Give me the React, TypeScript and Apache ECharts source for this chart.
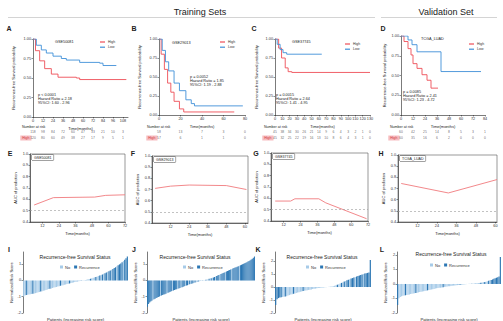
import React, { useEffect, useRef } from "react";
import * as echarts from "echarts";

const FONT = '"Liberation Sans", Arial, Helvetica, sans-serif';
const RED = "#ee4e57";
const BLUE = "#3f90d8";
const AUC_RED = "#f07a7e";
const LIGHT = "#a7cbe8";
const DARK = "#2c77b4";

// ---------------- Kaplan-Meier data (A-D) ----------------
const kmNames = ["GSE50081", "GSE29013", "GSE37745", "TCGA_LUAD"];
const kmStats = [
  ["p < 0.0001", "Hazard Ratio = 2.18", "95%CI: 1.60 - 2.96"],
  ["p = 0.0052", "Hazard Ratio = 1.85", "95%CI: 1.19 - 2.88"],
  ["p = 0.0015", "Hazard Ratio = 2.64", "95%CI: 1.41 - 4.95"],
  ["p = 0.0085", "Hazard Ratio = 2.41", "95%CI: 1.23 - 4.72"],
];
const kmA_low = [[0, 1], [4, 0.92], [10, 0.86], [16, 0.82], [24, 0.78], [34, 0.75], [40, 0.73], [56, 0.7], [80, 0.69], [84, 0.66], [100, 0.66]];
const kmA_high = [[0, 1], [3, 0.85], [8, 0.72], [14, 0.62], [22, 0.55], [30, 0.51], [52, 0.5], [56, 0.48], [112, 0.48]];
const kmB_low = [[0, 1], [3, 0.85], [6, 0.7], [9, 0.58], [14, 0.42], [19, 0.32], [25, 0.2], [30, 0.15], [33, 0.12], [78, 0.12]];
const kmB_high = [[0, 1], [2, 0.8], [5, 0.6], [8, 0.42], [11, 0.3], [14, 0.18], [19, 0.08], [23, 0.04], [70, 0.04]];
const kmC_low = [[0, 1], [3, 0.93], [7, 0.86], [11, 0.82], [16, 0.8], [64, 0.8]];
const kmC_high = [[0, 1], [5, 0.88], [9, 0.75], [14, 0.62], [18, 0.57], [23, 0.56], [130, 0.56]];
const kmD_low = [[0, 1], [7, 0.95], [11, 0.89], [16, 0.8], [40, 0.55], [80, 0.55]];
const kmD_high = [[0, 1], [3, 0.93], [7, 0.84], [10, 0.76], [12, 0.65], [16, 0.59], [21, 0.51], [26, 0.44], [30, 0.34], [37, 0.34]];

// number-at-risk tables
const riskA_times = [0, 12, 24, 36, 48, 60, 72, 84, 96, 108];
const riskA_low = [118, 98, 84, 72, 60, 47, 33, 21, 10, 3];
const riskA_high = [120, 80, 60, 49, 38, 27, 17, 9, 5, 1];
const riskB_times = [0, 20, 40, 60, 80];
const riskB_low = [58, 13, 7, 3, 0];
const riskB_high = [57, 6, 1, 1, 0];
const riskC_times = [0, 10, 20, 30, 40, 50, 60, 70, 80, 90, 100, 110, 120, 130];
const riskC_low = [45, 38, 34, 30, 26, 21, 14, 9, 6, 4, 3, 2, 1, 0];
const riskC_high = [45, 32, 25, 22, 19, 16, 13, 10, 8, 6, 4, 3, 1, 0];
const riskD_times = [0, 12, 24, 36, 48, 60, 72, 84];
const riskD_low = [60, 42, 25, 14, 8, 5, 3, 1];
const riskD_high = [60, 35, 16, 6, 2, 0, 0, 0];

// ---------------- time-dependent AUC (E-H) ----------------
const aucE = [[6, 0.55], [20, 0.615], [50, 0.62], [58, 0.635], [72, 0.64]];
const aucF = [[2, 0.71], [12, 0.73], [24, 0.74], [48, 0.735], [61, 0.7]];
const aucG = [[6, 0.576], [17, 0.576], [20, 0.596], [37, 0.596], [42, 0.56], [71, 0.42]];
const aucH = [[2, 0.745], [31, 0.66], [61, 0.78]];
const aucE_ticks = [12, 24, 36, 48, 60, 72];
const aucF_ticks = [12, 24, 36, 48, 60];
const aucG_ticks = [12, 24, 36, 48, 60, 72];
const aucH_ticks = [12, 24, 36, 48, 60];
const aucY_ticks = [0.4, 0.5, 0.6, 0.7, 0.8, 0.9, 1.0];

// ---------------- risk-score waterfalls (I-L) ----------------
const wfI_vals = [
  -0.98, -0.93, -0.9, -0.88, -0.86, -0.85, -0.83, -0.82, -0.8, -0.78,
  -0.76, -0.73, -0.71, -0.68, -0.66, -0.63, -0.61, -0.58, -0.56, -0.53,
  -0.51, -0.49, -0.46, -0.44, -0.42, -0.4, -0.37, -0.35, -0.33, -0.31,
  -0.29, -0.27, -0.25, -0.22, -0.2, -0.18, -0.16, -0.14, -0.12, -0.1,
  -0.08, -0.07, -0.05, -0.04, -0.02, -0.01,
  0.01, 0.03, 0.05, 0.07, 0.09, 0.11, 0.13, 0.16, 0.19, 0.22,
  0.25, 0.28, 0.31, 0.34, 0.37, 0.41, 0.45, 0.49, 0.53, 0.57,
  0.61, 0.66, 0.71, 0.76, 0.81, 0.87, 0.93, 0.99, 1.05, 1.12,
  1.19, 1.27, 1.36, 1.47,
];
const wfI_status = [
  0, 0, 1, 0, 0, 0, 0, 1, 0, 0, 0, 0, 0, 1, 0, 0, 0, 0, 0, 0,
  1, 0, 0, 0, 0, 0, 0, 0, 1, 0, 0, 0, 0, 0, 0, 1, 0, 0, 0, 0,
  0, 0, 0, 0, 1, 0, 0, 0, 0, 0, 0, 1, 0, 0, 0, 1, 0, 0, 1, 0,
  1, 0, 1, 1, 0, 1, 1, 0, 1, 1, 1, 0, 1, 1, 1, 1, 0, 1, 1, 1,
];
const wfJ_vals = [
  -1.62, -1.45, -1.36, -1.3, -1.25, -1.2, -1.16, -1.12, -1.08, -1.05,
  -1.02, -0.99, -0.96, -0.93, -0.9, -0.87, -0.84, -0.81, -0.78, -0.75,
  -0.72, -0.7, -0.67, -0.64, -0.62, -0.59, -0.56, -0.54, -0.51, -0.49,
  -0.46, -0.44, -0.41, -0.39, -0.36, -0.34, -0.31, -0.29, -0.27, -0.24,
  -0.22, -0.2, -0.17, -0.15, -0.13, -0.11, -0.09, -0.07, -0.05, -0.03,
  -0.02, -0.01,
  0.01, 0.02, 0.04, 0.06, 0.08, 0.1, 0.12, 0.14, 0.16, 0.19,
  0.22, 0.25, 0.28, 0.31, 0.34, 0.37, 0.4, 0.43, 0.46, 0.49,
  0.52, 0.55, 0.58, 0.61, 0.64, 0.67, 0.7, 0.73, 0.76, 0.79,
  0.82, 0.85, 0.88, 0.91, 0.94, 0.97, 1.0, 1.03, 1.06, 1.09,
  1.12, 1.16, 1.2, 1.24, 1.29, 1.34, 1.4, 1.47,
];
const wfJ_status = [
  1, 1, 1, 1, 1, 0, 1, 1, 1, 1, 1, 1, 0, 1, 1, 1, 1, 1, 0, 1,
  1, 1, 1, 0, 1, 1, 1, 1, 0, 1, 1, 0, 1, 1, 1, 0, 1, 1, 0, 1,
  0, 1, 1, 0, 1, 0, 0, 1, 0, 0, 0, 1, 0, 0, 1, 0, 0, 1, 0, 1,
  0, 1, 1, 0, 1, 1, 1, 0, 1, 1, 1, 1, 0, 1, 1, 1, 1, 1, 0, 1,
  1, 1, 1, 1, 1, 0, 1, 1, 1, 1, 1, 1, 1, 1, 1, 1, 1, 1, 1, 1,
];
const wfK_vals = [
  -1.39, -0.95, -0.85, -0.8, -0.78, -0.76, -0.74, -0.72, -0.7, -0.66,
  -0.62, -0.58, -0.55, -0.52, -0.49, -0.46, -0.43, -0.4, -0.37, -0.34,
  -0.31, -0.28, -0.26, -0.24, -0.22, -0.2, -0.18, -0.16, -0.14, -0.12,
  -0.1, -0.08, -0.06, -0.05, -0.04, -0.03, -0.02, -0.01,
  0.01, 0.02, 0.03, 0.05, 0.07, 0.1, 0.14, 0.18, 0.22, 0.27,
  0.32, 0.37, 0.42, 0.47, 0.52, 0.57, 0.61, 0.65, 0.69, 0.73,
  0.77, 0.81, 0.85, 0.89, 0.93, 0.97, 1.01, 1.04, 1.07, 1.09,
  1.12, 2.08,
];
const wfK_status = [
  1, 1, 1, 1, 1, 0, 0, 1, 0, 0, 0, 0, 0, 1, 0, 0, 0, 0, 0, 0,
  1, 0, 0, 0, 0, 0, 0, 0, 0, 0, 0, 0, 0, 0, 0, 0, 0, 0, 0, 0,
  0, 0, 0, 0, 0, 1, 0, 0, 1, 0, 1, 0, 1, 1, 0, 1, 1, 1, 0, 1,
  1, 1, 1, 1, 0, 1, 1, 1, 1, 1,
];
const wfL_vals = [
  -1.45, -0.98, -0.9, -0.85, -0.82, -0.8, -0.78, -0.76, -0.74, -0.72,
  -0.7, -0.68, -0.66, -0.64, -0.62, -0.6, -0.58, -0.56, -0.54, -0.52,
  -0.5, -0.48, -0.46, -0.44, -0.42, -0.4, -0.38, -0.36, -0.34, -0.32,
  -0.3, -0.28, -0.27, -0.26, -0.24, -0.22, -0.2, -0.19, -0.18, -0.16,
  -0.15, -0.14, -0.12, -0.11, -0.1, -0.09, -0.08, -0.07, -0.06, -0.05,
  -0.04, -0.03, -0.02, -0.01,
  0.0, 0.01, 0.01, 0.02, 0.02, 0.03, 0.04, 0.05, 0.06, 0.07,
  0.08, 0.1, 0.12, 0.14, 0.16, 0.19, 0.22, 0.25, 0.28, 0.31,
  0.35, 0.39, 0.43, 0.47, 0.52, 1.86,
];
const wfL_status = [
  1, 0, 0, 0, 0, 0, 1, 0, 0, 0, 0, 0, 0, 0, 1, 0, 0, 0, 0, 0,
  0, 0, 0, 1, 0, 0, 0, 0, 0, 0, 0, 0, 0, 0, 0, 1, 0, 0, 0, 0,
  0, 0, 0, 0, 0, 0, 0, 0, 1, 0, 0, 0, 0, 0, 0, 0, 0, 1, 0, 0,
  0, 0, 0, 0, 1, 0, 0, 1, 0, 0, 1, 0, 1, 1, 1, 1, 1, 1, 1, 1,
];
const wfI_ticks = [-2, -1, 0, 1];
const wfJ_ticks = [-2, -1, 0, 1];
const wfK_ticks = [-2, -1, 0, 1, 2];
const wfL_ticks = [-2, -1, 0, 1, 2];

// ---------------- layout (positions / sizes only) ----------------
const kmLayout = [
  { left: 33, top: 39, width: 95, height: 78, xmax: 114, xint: 12, yGap: 18, leg: [100, 40], name: [55, 42], stat: [38, 95], hdr: 22 },
  { left: 159, top: 39, width: 86, height: 76, xmax: 80, xint: 20, yGap: 18, leg: [220, 40], name: [172, 43], stat: [190, 77], hdr: 147 },
  { left: 275, top: 39, width: 95, height: 76, xmax: 130, xint: 10, yGap: 17, leg: [345, 42], name: [292, 42], stat: [276, 95], hdr: 264 },
  { left: 401, top: 36, width: 84, height: 79, xmax: 84, xint: 12, yGap: 15, leg: [469, 42], name: [421, 39], stat: [403, 92], hdr: 390 },
];
const aucLayout = [
  { left: 30, top: 154, width: 95, height: 68, min: 3, max: 72, yGap: 13 },
  { left: 152, top: 156, width: 96, height: 67, min: 0, max: 62, yGap: 13 },
  { left: 271, top: 153, width: 97, height: 68, min: 3, max: 72, yGap: 13 },
  { left: 398, top: 155, width: 99, height: 67, min: 0, max: 61, yGap: 13 },
];
const wfLayout = [
  { left: 23, top: 252, width: 105, height: 61, max: 1.75, title: [75, 257], leg: [60, 265] },
  { left: 147, top: 252, width: 108, height: 61, max: 1.75, title: [195, 257], leg: [183, 265] },
  { left: 275, top: 252, width: 96, height: 61, max: 2.7, title: [322, 257], leg: [306, 265] },
  { left: 397, top: 252, width: 104, height: 61, max: 2.2, title: [451, 254], leg: [430, 263] },
];
const letters: [string, number, number][] = [
  ["A", 9, 28], ["B", 134, 28], ["C", 254, 28], ["D", 383, 28],
  ["E", 10, 153], ["F", 133, 153], ["G", 256, 153], ["H", 381, 153],
  ["I", 9, 249], ["J", 134, 249], ["K", 258, 249], ["L", 382, 249],
];

function buildOption() {
  const grids: any[] = [];
  const xAxes: any[] = [];
  const yAxes: any[] = [];
  const series: any[] = [];
  const legends: any[] = [];
  const graphics: any[] = [];

  const lbl = { fontSize: 3.8, color: "#333", margin: 2, fontFamily: FONT };
  const axLine = { lineStyle: { color: "#222", width: 0.6 }, onZero: false };
  const axTick = { length: 1.5, lineStyle: { color: "#222", width: 0.5 } };
  const nameStyle = { fontSize: 4, color: "#222", fontFamily: FONT };

  const txt = (x: number, y: number, text: string, extra: any = {}) => ({
    type: "text",
    x,
    y,
    silent: true,
    style: { text, fontSize: 3.8, fill: "#222", fontFamily: FONT, verticalAlign: "middle", ...extra },
  });

  const gridBase = { containLabel: false, outerBoundsMode: "none" };

  // ---- KM panels ----
  const km = [
    { low: kmA_low, high: kmA_high, t: riskA_times, rl: riskA_low, rh: riskA_high },
    { low: kmB_low, high: kmB_high, t: riskB_times, rl: riskB_low, rh: riskB_high },
    { low: kmC_low, high: kmC_high, t: riskC_times, rl: riskC_low, rh: riskC_high },
    { low: kmD_low, high: kmD_high, t: riskD_times, rl: riskD_low, rh: riskD_high },
  ];
  km.forEach((d, i) => {
    const L = kmLayout[i];
    let gi = grids.length;
    grids.push({ ...gridBase, left: L.left, top: L.top, width: L.width, height: L.height });
    xAxes.push({
      type: "value", gridIndex: gi, min: 0, max: L.xmax, interval: L.xint,
      axisLine: axLine, axisTick: axTick, splitLine: { show: false },
      axisLabel: { ...lbl, showMaxLabel: L.xmax % L.xint === 0 },
      name: "Time(months)", nameLocation: "middle", nameGap: 9, nameTextStyle: nameStyle,
    });
    yAxes.push({
      type: "value", gridIndex: gi, min: 0, max: 1, interval: 0.25,
      axisLine: { ...axLine, show: true }, axisTick: { ...axTick, show: true }, splitLine: { show: false },
      axisLabel: { ...lbl, formatter: (v: number) => v.toFixed(2) },
      name: "Recurrence-free Survival probability", nameLocation: "middle", nameGap: L.yGap, nameTextStyle: nameStyle,
    });
    series.push({
      type: "line", name: "High", xAxisIndex: gi, yAxisIndex: gi, data: d.high, step: "end", symbol: "none",
      lineStyle: { color: RED, width: 0.9 }, itemStyle: { color: RED }, silent: true,
    });
    series.push({
      type: "line", name: "Low", xAxisIndex: gi, yAxisIndex: gi, data: d.low, step: "end", symbol: "none",
      lineStyle: { color: BLUE, width: 0.9 }, itemStyle: { color: BLUE }, silent: true,
    });
    legends.push({
      orient: "vertical", left: L.leg[0], top: L.leg[1], data: ["High", "Low"], icon: "rect",
      itemWidth: 5, itemHeight: 1.2, itemGap: 1.2, padding: 0, selectedMode: false,
      textStyle: { fontSize: 3.5, color: "#333", fontFamily: FONT, padding: [0, 0, 0, -2] },
    });
    graphics.push(txt(L.name[0], L.name[1], kmNames[i]));
    kmStats[i].forEach((s, k) => graphics.push(txt(L.stat[0], L.stat[1] + k * 4.2, s)));
    graphics.push(txt(L.hdr, 127, "Number at risk", { fontSize: 3.6 }));

    // risk table
    gi = grids.length;
    grids.push({ ...gridBase, left: L.left, top: 129, width: L.width, height: 12 });
    xAxes.push({ type: "value", gridIndex: gi, min: 0, max: L.xmax, show: false });
    yAxes.push({
      type: "category", gridIndex: gi, data: ["High", "Low"],
      axisLine: { show: false }, axisTick: { show: false }, splitLine: { show: false },
      axisLabel: {
        fontSize: 3.5, margin: 1.5, fontFamily: FONT,
        formatter: (v: string) => (v === "Low" ? "{l|Low}" : "{h|High}"),
        rich: {
          l: { fontSize: 3.5, color: "#2f7cc4", backgroundColor: "#b5d7f3", padding: [0.5, 3, 0.5, 3] },
          h: { fontSize: 3.5, color: "#d23a44", backgroundColor: "#f6bcc0", padding: [0.5, 2, 0.5, 2] },
        },
      },
    });
    const pts: any[] = [];
    d.t.forEach((t, k) => {
      pts.push([t, "Low", d.rl[k]]);
      pts.push([t, "High", d.rh[k]]);
    });
    series.push({
      type: "scatter", xAxisIndex: gi, yAxisIndex: gi, data: pts, symbolSize: 0.1, silent: true,
      itemStyle: { color: "transparent" },
      label: { show: true, position: "inside", formatter: (p: any) => String(p.value[2]), fontSize: 3.4, color: "#444", fontFamily: FONT },
    });
  });

  // ---- AUC panels ----
  const aucs = [
    { d: aucE, t: aucE_ticks, n: kmNames[0] },
    { d: aucF, t: aucF_ticks, n: kmNames[1] },
    { d: aucG, t: aucG_ticks, n: kmNames[2] },
    { d: aucH, t: aucH_ticks, n: kmNames[3] },
  ];
  aucs.forEach((a, i) => {
    const L = aucLayout[i];
    const gi = grids.length;
    grids.push({ ...gridBase, left: L.left, top: L.top, width: L.width, height: L.height, show: true, borderColor: "#555", borderWidth: 0.6, backgroundColor: "transparent" });
    xAxes.push({
      type: "value", gridIndex: gi, min: L.min, max: L.max,
      axisLine: axLine, axisTick: { ...axTick, customValues: a.t }, splitLine: { show: false },
      axisLabel: { ...lbl, customValues: a.t },
      name: "Time(months)", nameLocation: "middle", nameGap: 9, nameTextStyle: nameStyle,
    });
    yAxes.push({
      type: "value", gridIndex: gi, min: 0.4, max: 1.0,
      axisLine: { ...axLine, show: true }, axisTick: { ...axTick, show: true, customValues: aucY_ticks }, splitLine: { show: false },
      axisLabel: { ...lbl, customValues: aucY_ticks, formatter: (v: number) => v.toFixed(1) },
      name: "AUC of prediction", nameLocation: "middle", nameGap: L.yGap, nameTextStyle: nameStyle,
    });
    series.push({
      type: "line", name: "AUC" + i, xAxisIndex: gi, yAxisIndex: gi, data: a.d, symbol: "none", silent: true,
      lineStyle: { color: AUC_RED, width: 0.9 }, itemStyle: { color: AUC_RED },
      markLine: {
        silent: true, symbol: "none", label: { show: false },
        lineStyle: { type: [2, 2], color: "#999", width: 0.6 },
        data: [{ yAxis: 0.5 }],
      },
    });
    graphics.push(txt(L.left + 2, L.top + 3.5, a.n, {
      fontSize: 3.6, backgroundColor: "#fff", borderColor: "#444", borderWidth: 0.5, padding: [0.5, 2, 0.5, 2],
    }));
  });

  // ---- waterfall panels ----
  const wfs = [
    { v: wfI_vals, s: wfI_status, t: wfI_ticks },
    { v: wfJ_vals, s: wfJ_status, t: wfJ_ticks },
    { v: wfK_vals, s: wfK_status, t: wfK_ticks },
    { v: wfL_vals, s: wfL_status, t: wfL_ticks },
  ];
  wfs.forEach((w, i) => {
    const L = wfLayout[i];
    const gi = grids.length;
    grids.push({ ...gridBase, left: L.left, top: L.top, width: L.width, height: L.height });
    xAxes.push({
      type: "category", gridIndex: gi, data: w.v.map((_, k) => String(k + 1)),
      axisLine: { show: false, onZero: false }, axisTick: { show: false }, axisLabel: { show: false },
      name: "Patients (increasing risk score)", nameLocation: "middle", nameGap: 4, nameTextStyle: { ...nameStyle, fontSize: 4.2 },
    });
    yAxes.push({
      type: "value", gridIndex: gi, min: -2, max: L.max,
      axisLine: { ...axLine, show: true }, axisTick: { ...axTick, show: true, customValues: w.t }, splitLine: { show: false },
      axisLabel: { ...lbl, customValues: w.t },
      name: "Normalized Risk Score", nameLocation: "middle", nameGap: 8, nameTextStyle: nameStyle,
    });
    series.push({
      type: "bar", name: "No", xAxisIndex: gi, yAxisIndex: gi, silent: true,
      data: w.v.map((v, k) => (w.s[k] === 0 ? v : "-")),
      barGap: "-100%", barCategoryGap: "12%", itemStyle: { color: LIGHT },
    });
    series.push({
      type: "bar", name: "Recurrence", xAxisIndex: gi, yAxisIndex: gi, silent: true,
      data: w.v.map((v, k) => (w.s[k] === 1 ? v : "-")),
      barGap: "-100%", barCategoryGap: "12%", itemStyle: { color: DARK },
    });
    graphics.push(txt(L.title[0], L.title[1], "Recurrence-free Survival Status", { fontSize: 5, align: "center" }));
    legends.push({
      orient: "horizontal", left: L.leg[0], top: L.leg[1], data: ["No", "Recurrence"], icon: "rect",
      itemWidth: 3, itemHeight: 3, itemGap: 4, padding: 0, selectedMode: false,
      textStyle: { fontSize: 4, color: "#333", fontFamily: FONT, padding: [0, 0, 0, -3] },
    });
  });

  // ---- headers & letters ----
  graphics.push(txt(200, 12, "Training Sets", { fontSize: 9, align: "center" }));
  graphics.push(txt(446, 12, "Validation Set", { fontSize: 9, align: "center" }));
  graphics.push({ type: "line", silent: true, shape: { x1: 8, y1: 17.5, x2: 375, y2: 17.5 }, style: { stroke: "#c9c9c9", lineWidth: 0.8 } });
  graphics.push({ type: "line", silent: true, shape: { x1: 381, y1: 17.5, x2: 497, y2: 17.5 }, style: { stroke: "#c9c9c9", lineWidth: 0.8 } });
  letters.forEach(([t, x, y]) => graphics.push(txt(x, y, t, { fontSize: 7, fontWeight: "bold", align: "center" })));

  return {
    animation: false,
    backgroundColor: "#ffffff",
    textStyle: { fontFamily: FONT },
    grid: grids,
    xAxis: xAxes,
    yAxis: yAxes,
    series,
    legend: legends,
    graphic: graphics,
  };
}

export default function App() {
  const ref = useRef<HTMLDivElement>(null);
  useEffect(() => {
    if (!ref.current) return;
    const chart = echarts.init(ref.current, undefined, { renderer: "svg" });
    chart.setOption(buildOption() as any);
    return () => chart.dispose();
  }, []);
  return (
    <div
      ref={ref}
      style={{ position: "fixed", left: 0, top: 0, width: 503, height: 321, background: "#fff" }}
    />
  );
}
